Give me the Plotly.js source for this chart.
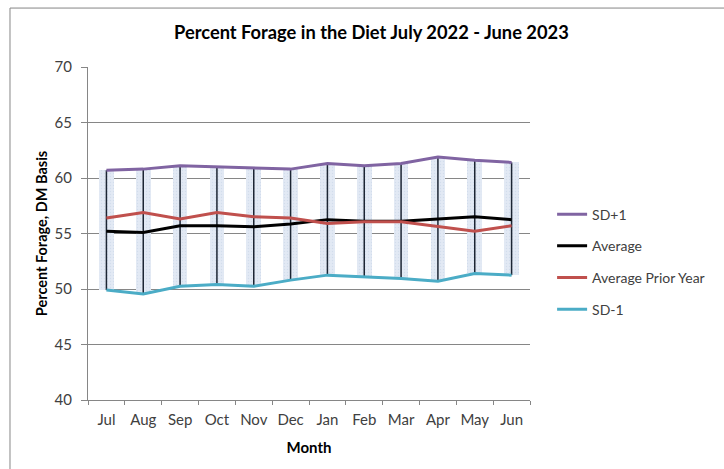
<!DOCTYPE html>
<html>
<head>
<meta charset="utf-8">
<script src="https://cdn.plot.ly/plotly-3.0.1.min.js"></script>
<style>
  html, body { margin: 0; padding: 0; background: #ffffff; }
  #chart { width: 724px; height: 469px; }
</style>
</head>
<body>
<div id="chart"></div>
<script>
// Monthly forage share of the diet (DM basis), July 2022 - June 2023
const months = ["Jul", "Aug", "Sep", "Oct", "Nov", "Dec", "Jan", "Feb", "Mar", "Apr", "May", "Jun"];
const sdPlus1 = [60.7, 60.8, 61.1, 61.0, 60.9, 60.8, 61.3, 61.1, 61.3, 61.9, 61.6, 61.4];
const average = [55.2, 55.1, 55.7, 55.7, 55.6, 55.85, 56.25, 56.1, 56.1, 56.3, 56.5, 56.25];
const averagePriorYear = [56.4, 56.9, 56.3, 56.9, 56.5, 56.4, 55.9, 56.05, 56.05, 55.6, 55.2, 55.7];
const sdMinus1 = [49.9, 49.55, 50.25, 50.4, 50.25, 50.8, 51.25, 51.1, 50.95, 50.7, 51.4, 51.25];
const yTicks = [40, 45, 50, 55, 60, 65, 70];

const FONT = "Lato, 'Open Sans', sans-serif";

// Shaded band between SD-1 and SD+1 for each month
const bandTrace = {
  type: "bar",
  x: months,
  y: sdPlus1.map((v, i) => v - sdMinus1[i]),
  base: sdMinus1,
  width: 0.4,
  marker: {
    color: "#e0e8f3",
    line: { width: 0 },
    pattern: { shape: ".", fgcolor: "#d2ddec", bgcolor: "#e2e9f4", size: 3, solidity: 0.15 }
  },
  showlegend: false,
  hoverinfo: "skip"
};

// Vertical high-low lines joining SD-1 to SD+1
const hlX = [], hlY = [];
months.forEach((m, i) => {
  hlX.push(m, m, null);
  hlY.push(sdMinus1[i], sdPlus1[i], null);
});
const hiLoTrace = {
  type: "scatter",
  mode: "lines",
  x: hlX,
  y: hlY,
  line: { color: "#1c2533", width: 1.5 },
  showlegend: false,
  hoverinfo: "skip",
  connectgaps: false
};

function seriesLine(name, values, color, group) {
  return {
    type: "scatter",
    mode: "lines",
    name: name,
    x: months,
    y: values,
    legendgroup: group,
    line: { color: color, width: 3 }
  };
}

const traces = [
  bandTrace,
  hiLoTrace,
  seriesLine("SD+1", sdPlus1, "#8064a2", "g1"),
  seriesLine("Average", average, "#000000", "g2"),
  seriesLine("Average Prior Year", averagePriorYear, "#c0504d", "g3"),
  seriesLine("SD-1", sdMinus1, "#4bacc6", "g4")
];

const layout = {
  width: 724,
  height: 469,
  margin: { l: 88, r: 194, t: 67, b: 69 },
  paper_bgcolor: "#ffffff",
  plot_bgcolor: "#ffffff",
  font: { family: FONT, size: 15, color: "#404040" },
  title: {
    text: "<b>Percent Forage in the Diet July 2022 - June 2023</b>",
    font: { family: FONT, size: 18.3, color: "#000000" },
    x: 0.513,
    xanchor: "center",
    y: 0.93,
    yanchor: "middle"
  },
  xaxis: {
    type: "category",
    categoryorder: "array",
    categoryarray: months,
    range: [-0.5, 11.5],
    tickson: "boundaries",
    ticks: "outside",
    ticklen: 4,
    tickcolor: "#868686",
    tickangle: 0,
    ticklabelstandoff: 6,
    showline: true,
    linecolor: "#868686",
    linewidth: 1,
    showgrid: false,
    tickfont: { family: FONT, size: 15, color: "#404040" },
    title: { text: "<b>Month</b>", font: { family: FONT, size: 15, color: "#000000" }, standoff: 15 }
  },
  yaxis: {
    range: [40, 70],
    tickvals: yTicks,
    ticks: "outside",
    ticklen: 6,
    tickcolor: "#868686",
    ticklabelstandoff: 6,
    showline: true,
    linecolor: "#868686",
    linewidth: 1,
    showgrid: true,
    gridcolor: "#868686",
    gridwidth: 1,
    zeroline: false,
    tickfont: { family: FONT, size: 15, color: "#404040" },
    title: { text: "<b>Percent Forage, DM Basis</b>", font: { family: FONT, size: 14.5, color: "#000000" }, standoff: 3 }
  },
  showlegend: true,
  legend: {
    x: 1.05,
    xanchor: "left",
    y: 0.605,
    yanchor: "top",
    traceorder: "grouped",
    tracegroupgap: 10.5,
    bgcolor: "rgba(0,0,0,0)",
    font: { family: FONT, size: 14, color: "#404040" }
  },
  shapes: [
    {
      type: "rect",
      xref: "paper", yref: "paper",
      x0: -0.1765, x1: 1.6,
      y0: -0.5, y1: 1.177,
      line: { color: "#868686", width: 1 },
      fillcolor: "rgba(0,0,0,0)",
      layer: "below"
    }
  ],
  bargap: 0
};

Plotly.newPlot("chart", traces, layout, { displayModeBar: false, staticPlot: true });
</script>
</body>
</html>
